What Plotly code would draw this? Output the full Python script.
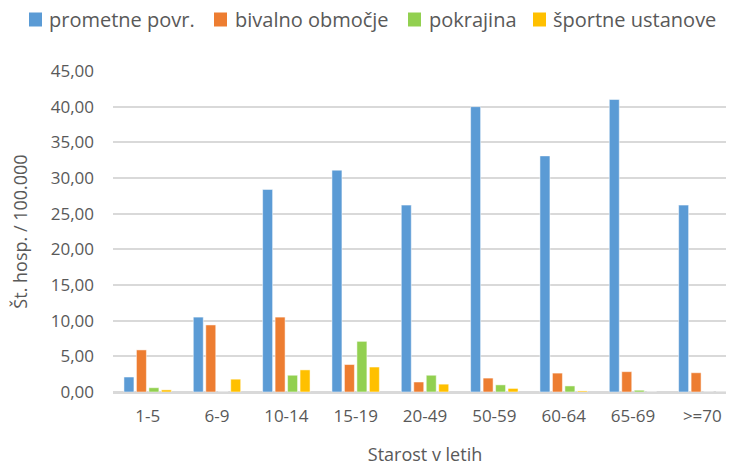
import plotly.graph_objects as go

categories = ["1-5", "6-9", "10-14", "15-19", "20-49", "50-59", "60-64", "65-69", ">=70"]
prometne = [2.1, 10.5, 28.4, 31.1, 26.2, 40.0, 33.1, 41.0, 26.2]
bivalno = [5.9, 9.4, 10.5, 3.85, 1.4, 1.95, 2.65, 2.85, 2.7]
pokrajina = [0.6, 0.0, 2.35, 7.1, 2.35, 1.0, 0.85, 0.25, 0.0]
sportne = [0.3, 1.8, 3.1, 3.5, 1.1, 0.5, 0.15, 0.0, 0.0]

series = [
    ("prometne povr.", prometne, "#5B9BD5"),
    ("bivalno območje", bivalno, "#ED7D31"),
    ("pokrajina", pokrajina, "#92D050"),
    ("športne ustanove", sportne, "#FFC000"),
]

fig = go.Figure()
for name, vals, color in series:
    fig.add_trace(go.Bar(
        x=categories, y=vals, name=name,
        marker=dict(color=color, line=dict(color="rgba(255,255,255,0.5)", width=1)),
    ))

grey = "#595959"
font = "Open Sans, Liberation Sans, sans-serif"

# plot area in pixels: x 105..729, y 63..384 (figure coords)
L, R, T, B = 105, 729, 63, 384
def px(x):
    return (x - L) / (R - L)
def py(y):
    return (B - y) / (B - T)

# hand-drawn legend (Excel style: small square + text, tight spacing)
legend_sq = [21, 206, 400, 525]
legend_tx = [39, 225, 419, 543]
for (name, _, color), sx, tx in zip(series, legend_sq, legend_tx):
    fig.add_shape(type="rect", xref="paper", yref="paper",
                  x0=px(sx), x1=px(sx + 13), y0=py(4.5), y1=py(18.5),
                  fillcolor=color, line=dict(width=0))
    fig.add_annotation(text=name, xref="paper", yref="paper", x=px(tx), y=py(11.5),
                       xanchor="left", yanchor="middle", showarrow=False,
                       font=dict(size=20, color=grey, family=font))

fig.update_layout(
    width=734, height=468,
    barmode="group", bargap=0.28, bargroupgap=0.2,
    separators=",.",
    font=dict(family=font, color=grey, size=17),
    paper_bgcolor="white", plot_bgcolor="white",
    margin=dict(l=L, r=734 - R, t=T, b=468 - B, autoexpand=False),
    showlegend=False,
    xaxis=dict(
        title=dict(text="Starost v letih", font=dict(size=18, color=grey), standoff=22),
        showline=True, linecolor="#D9D9D9", linewidth=1.5,
        tickfont=dict(size=17, color=grey), ticks="", automargin=False,
        ticklabelstandoff=8,
    ),
    yaxis=dict(
        title=dict(text="Št. hosp. / 100.000", font=dict(size=18, color=grey), standoff=18),
        range=[0, 45], dtick=5, tickformat=".2f",
        showgrid=True, gridcolor="#D9D9D9", gridwidth=1.5,
        zeroline=True, zerolinecolor="#D9D9D9", zerolinewidth=1.5,
        tickfont=dict(size=17, color=grey), automargin=False,
        ticklabelstandoff=18,
    ),
)

fig.write_html("out.html")
